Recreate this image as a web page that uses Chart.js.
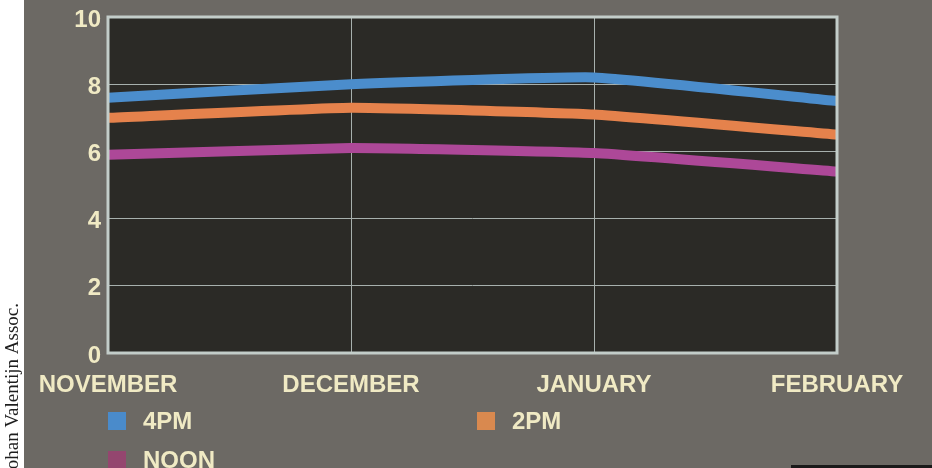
<!DOCTYPE html>
<html>
<head>
<meta charset="utf-8">
<script src="https://cdn.jsdelivr.net/npm/chart.js@4.4.1/dist/chart.umd.min.js"></script>
<style>
  html, body { margin: 0; padding: 0; background: #ffffff; overflow: hidden; }
  #wrap { width: 932px; height: 468px; position: relative; }
</style>
</head>
<body>
<div id="wrap"><canvas id="c" width="932" height="468"></canvas></div>
<script>
const categories = ['NOVEMBER', 'DECEMBER', 'JANUARY', 'FEBRUARY'];
const seriesLabels = ['4PM', '2PM', 'NOON'];
const pm4Values = [7.6, 8.0, 8.2, 7.5];
const pm2Values = [7.0, 7.3, 7.1, 6.5];
const noonValues = [5.9, 6.1, 5.95, 5.4];
const yTickValues = [0, 2, 4, 6, 8, 10];
const creditText = 'ohan Valentijn Assoc.';

const COLORS = ['#4b8dcc', '#e5824c', '#ad4898'];
const LEGEND_COLORS = ['#4a8bcb', '#d9894f', '#94466f'];
const TEXT = '#f0eac4';
const FONT = '"Liberation Sans", Arial, Helvetica, sans-serif';

const backgroundPlugin = {
  id: 'bg',
  beforeDraw(chart) {
    const ctx = chart.ctx;
    const a = chart.chartArea;
    ctx.save();
    ctx.fillStyle = '#ffffff';
    ctx.fillRect(0, 0, chart.width, chart.height);
    ctx.fillStyle = '#6c6964';
    ctx.fillRect(24, 0, chart.width - 24, chart.height);
    ctx.fillStyle = '#2b2a26';
    ctx.fillRect(a.left, a.top, a.right - a.left, a.bottom - a.top);
    ctx.restore();
  },
  afterDatasetsDraw(chart) {
    const ctx = chart.ctx;
    const a = chart.chartArea;
    ctx.save();
    ctx.strokeStyle = '#c3cdc9';
    ctx.lineWidth = 3;
    ctx.strokeRect(a.left, a.top, a.right - a.left, a.bottom - a.top);
    ctx.restore();
  },
  afterDraw(chart) {
    const ctx = chart.ctx;
    const a = chart.chartArea;
    ctx.save();
    // legend built from datasets
    const cols = [a.left, a.left + 369];
    const rows = [421, 460];
    const slots = [[0, 0], [1, 0], [0, 1]];
    chart.data.datasets.forEach((ds, i) => {
      const [ci, ri] = slots[i];
      const x = cols[ci], y = rows[ri];
      ctx.fillStyle = LEGEND_COLORS[i];
      ctx.fillRect(x, y - 9, 18, 18);
      ctx.fillStyle = TEXT;
      ctx.font = 'bold 24px ' + FONT;
      ctx.textAlign = 'left';
      ctx.textBaseline = 'middle';
      ctx.fillText(ds.label, x + 35, y + 1);
    });
    // credit
    ctx.translate(18, 303);
    ctx.rotate(-Math.PI / 2);
    ctx.fillStyle = '#1e1e1e';
    ctx.font = '19px "Liberation Serif", "Times New Roman", serif';
    ctx.textAlign = 'right';
    ctx.textBaseline = 'alphabetic';
    ctx.fillText(creditText, 0, 0);
    ctx.restore();
    ctx.save();
    ctx.fillStyle = '#1a1a1a';
    ctx.fillRect(791, 465, 141, 3);
    ctx.restore();
  }
};

const seriesValues = [pm4Values, pm2Values, noonValues];

new Chart(document.getElementById('c'), {
  type: 'line',
  data: {
    labels: categories,
    datasets: seriesValues.map((vals, i) => ({
      label: seriesLabels[i],
      data: vals,
      borderColor: COLORS[i],
      backgroundColor: COLORS[i],
      borderWidth: 10,
      borderCapStyle: 'butt',
      borderJoinStyle: 'round',
      pointRadius: 0,
      tension: 0.12,
      fill: false
    }))
  },
  options: {
    responsive: false,
    animation: false,
    devicePixelRatio: 1,
    layout: { padding: { left: 0, right: 95, top: 17, bottom: 0 } },
    plugins: {
      legend: { display: false },
      tooltip: { enabled: false }
    },
    scales: {
      x: {
        type: 'category',
        offset: false,
        grid: { color: '#a7b0ad', lineWidth: 1, drawTicks: false },
        border: { display: false },
        ticks: {
          color: TEXT,
          font: { family: FONT, size: 24, weight: 'bold' },
          padding: 18,
          maxRotation: 0,
          autoSkip: false
        },
        afterFit: (s) => { s.height = 115; s.paddingLeft = 0; s.paddingRight = 0; }
      },
      y: {
        min: 0,
        max: 10,
        grid: { color: '#a7b0ad', lineWidth: 1, drawTicks: false },
        border: { display: false },
        afterBuildTicks: (s) => { s.ticks = yTickValues.map(v => ({ value: v })); },
        ticks: {
          color: TEXT,
          font: { family: FONT, size: 24, weight: 'bold' },
          padding: 7,
          labelOffset: 3
        },
        afterFit: (s) => { s.width = 108; s.paddingTop = 0; s.paddingBottom = 0; }
      }
    }
  },
  plugins: [backgroundPlugin]
});
</script>
</body>
</html>
